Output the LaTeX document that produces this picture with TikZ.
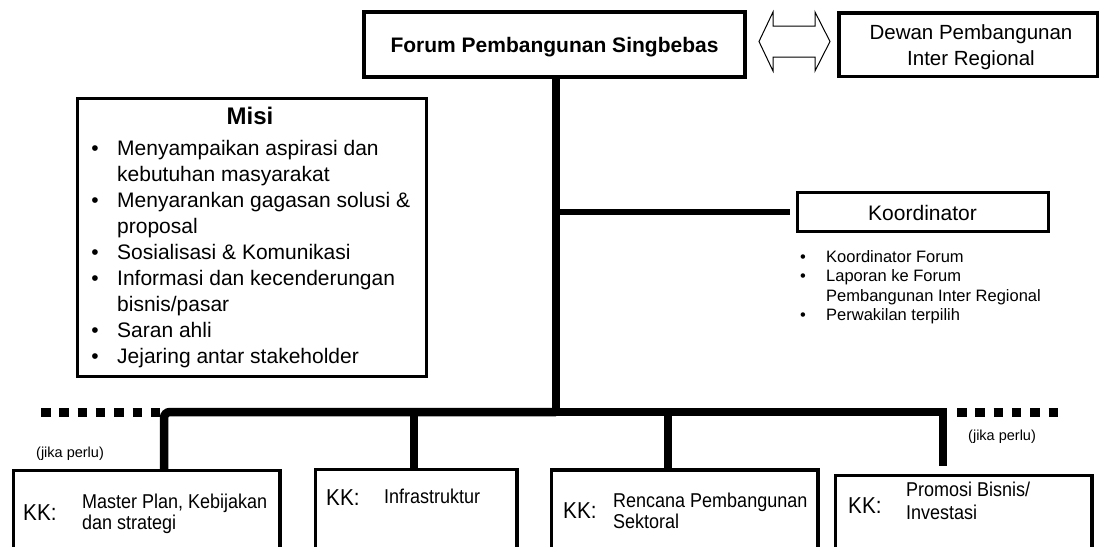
\documentclass[tikz,border=0pt]{standalone}
\usepackage{fontspec}
\setmainfont{Liberation Sans}
\newfontfamily\narrowf[FakeStretch=0.9]{Liberation Sans}
\newcommand\fz[2]{\fontsize{#1pt}{#2pt}\selectfont}
\begin{document}
\begin{tikzpicture}[x=1pt,y=-1pt,
  box/.style={draw, inner sep=0pt, line width=3pt},
  kkbox/.style={draw, inner sep=0pt, line width=3.5pt, anchor=north west, minimum height=100pt},
  txt/.style={inner sep=0pt, anchor=base west},
  ctxt/.style={inner sep=0pt, anchor=base},
  big/.style={font=\fz{21}{25}},
  kkf/.style={font=\narrowf\fz{23}{27}},
  mid/.style={font=\narrowf\fz{20}{23}},
  small/.style={font=\fz{16.5}{19.5}},
  tiny/.style={font=\fz{14.5}{17}},
  trunk/.style={line width=8pt},
  dots/.style={line width=9pt, dash pattern=on 9.5pt off 8.8pt}]
\useasboundingbox (0,0) rectangle (1100,546);

% Forum (double border)
\node[draw, line width=4.3pt, inner sep=0pt, minimum width=380.7pt, minimum height=64.7pt] (forum) at (554.5,44.5) {};
\draw[line width=1.2pt] ([shift={(3.6,3.6)}]forum.north west) rectangle ([shift={(-3.6,-3.6)}]forum.south east);
\node[ctxt, font=\fz{21}{25}\bfseries] (forumT) at (554.5,52) {Forum Pembangunan Singbebas};

% Dewan
\node[box, line width=3.5pt, minimum width=258.5pt, minimum height=63.5pt] (dewan) at (968,44.5) {};
\node[ctxt, font=\fz{20.5}{25}] (dewanA) at (971,39.3) {Dewan Pembangunan};
\node[ctxt, font=\fz{20.5}{25}] (dewanB) at (971,65) {Inter Regional};

% double arrow
\draw[line width=1pt, fill=white] (759,41.5) -- (773,12) -- (773,26) -- (815,26) -- (815,12) -- (830,41.5)
  -- (815,71) -- (815,57) -- (773,57) -- (773,71) -- cycle;

% Misi box
\node[box, minimum width=349pt, minimum height=278pt] (misi) at (252,237.5) {};
\node[ctxt, font=\fz{24}{28}\bfseries] (misiT) at (250,124) {Misi};
\foreach \y/\b/\t [count=\i] in {
  155/1/{Menyampaikan aspirasi dan},
  181/0/{kebutuhan masyarakat},
  207/1/{Menyarankan gagasan solusi \&},
  233/0/{proposal},
  259/1/{Sosialisasi \& Komunikasi},
  285/1/{Informasi dan kecenderungan},
  311/0/{bisnis/pasar},
  337/1/{Saran ahli},
  363/1/{Jejaring antar stakeholder}}{
  \node[txt, big] (m\i) at (117,\y) {\t};
  \ifnum\b=1 \node[ctxt, big] (mb\i) at (95,\y) {\textbullet}; \fi
}

% Koordinator
\node[box, minimum width=251pt, minimum height=39pt] (koord) at (923,212) {};
\node[ctxt, big] (koordT) at (922.5,220.7) {Koordinator};
\foreach \y/\b/\t [count=\i] in {
  262/1/{Koordinator Forum},
  281.5/1/{Laporan ke Forum},
  301/0/{Pembangunan Inter Regional},
  320.5/1/{Perwakilan terpilih}}{
  \node[txt, small] (k\i) at (826,\y) {\t};
  \ifnum\b=1 \node[ctxt, small] (kb\i) at (803,\y) {\textbullet}; \fi
}

% trunk and branches
\coordinate (tj) at (556,412);
\coordinate (kj) at (556,212);
\draw[trunk] (forum.south -| tj) -- (tj);
\draw[line width=5.5pt, shorten >=6pt] (kj) -- (koord.west |- kj);

% bottom boxes
\node[kkbox, minimum width=266.5pt] (b1) at (11.75,468.75) {};
\node[kkbox, minimum width=201.5pt] (b2) at (313.75,467.5) {};
\node[kkbox, minimum width=266.5pt] (b3) at (549.75,468.25) {};
\node[kkbox, minimum width=256.5pt] (b4) at (833.75,473.75) {};

% bus
\coordinate (d4) at (943,466);
\draw[line width=8.5pt, rounded corners=6pt] (b1.north -| 164,0) -- (164,412) -- (tj);
\draw[line width=8.5pt] (tj) -- (943,412) -- (d4);
\draw[trunk] (413.5,412) -- (b2.north -| 413.5,0);
\draw[trunk] (668,412) -- (b3.north -| 668,0);
\draw[dots] (41,412) -- (160,412);
\draw[dots] (957,412) -- (1062,412);

\node[txt, tiny] (jp1) at (36,457) {(jika perlu)};
\node[txt, tiny] (jp2) at (968,440) {(jika perlu)};

% box texts
\node[txt, kkf] (kk1) at (23,520) {KK:};
\node[txt, mid] (t1a) at (82,508) {Master Plan, Kebijakan};
\node[txt, mid] (t1b) at (82,529) {dan strategi};
\node[txt, kkf] (kk2) at (326,505) {KK:};
\node[txt, mid] (t2a) at (384,503) {Infrastruktur};
\node[txt, kkf] (kk3) at (563,518) {KK:};
\node[txt, mid] (t3a) at (613,507) {Rencana Pembangunan};
\node[txt, mid] (t3b) at (613,528) {Sektoral};
\node[txt, kkf] (kk4) at (848,513) {KK:};
\node[txt, mid] (t4a) at (906,496) {Promosi Bisnis/};
\node[txt, mid] (t4b) at (906,519) {Investasi};
\end{tikzpicture}
\end{document}
